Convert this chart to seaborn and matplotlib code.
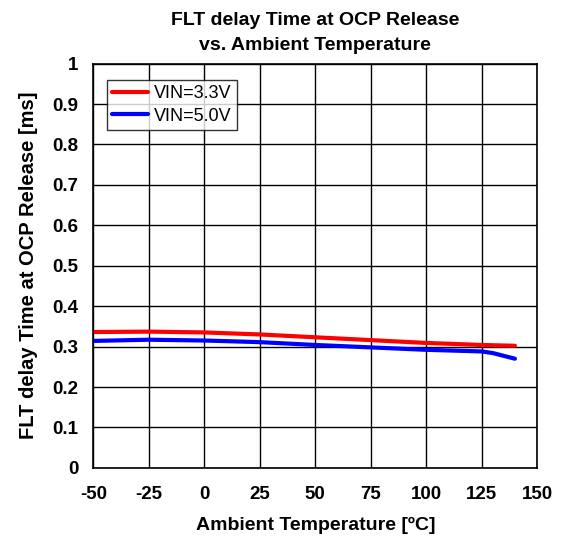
import pandas as pd
import numpy as np
import matplotlib.pyplot as plt
import seaborn as sns

### DATA ###
temp_33 = [-50, -25, 0, 25, 50, 75, 100, 125, 140]
delay_33 = [0.336, 0.337, 0.335, 0.330, 0.323, 0.316, 0.309, 0.304, 0.302]
temp_50 = [-50, -25, 0, 25, 50, 75, 100, 125, 130, 140]
delay_50 = [0.314, 0.317, 0.315, 0.311, 0.304, 0.298, 0.292, 0.288, 0.284, 0.270]
x_ticks = [-50, -25, 0, 25, 50, 75, 100, 125, 150]
y_ticks = [0, 0.1, 0.2, 0.3, 0.4, 0.5, 0.6, 0.7, 0.8, 0.9, 1]
y_tick_labels = ['0', '0.1', '0.2', '0.3', '0.4', '0.5', '0.6', '0.7', '0.8', '0.9', '1']

df = pd.concat([
    pd.DataFrame({'Temp': temp_33, 'Delay': delay_33, 'Series': 'VIN=3.3V'}),
    pd.DataFrame({'Temp': temp_50, 'Delay': delay_50, 'Series': 'VIN=5.0V'}),
])

sns.set_style('white')
plt.rcParams['font.family'] = ['Liberation Sans', 'DejaVu Sans']
plt.rcParams['text.color'] = 'black'
plt.rcParams['axes.labelcolor'] = 'black'
plt.rcParams['xtick.color'] = 'black'
plt.rcParams['ytick.color'] = 'black'

fig = plt.figure(figsize=(5.63, 5.44), dpi=100)
ax = fig.add_axes([0.166, 0.140, 0.788, 0.743])
sns.lineplot(data=df, x='Temp', y='Delay', hue='Series', ax=ax,
             palette={'VIN=3.3V': '#ff0000', 'VIN=5.0V': '#0000ff'},
             linewidth=3, estimator=None, sort=False)

ax.set_xlim(-50, 150)
ax.set_ylim(0, 1)
ax.set_xticks(x_ticks)
ax.set_xticklabels([str(t) for t in x_ticks], fontweight='bold', fontsize=13.5)
ax.set_yticks(y_ticks)
ax.set_yticklabels(y_tick_labels, fontweight='bold', fontsize=13.5)
ax.tick_params(axis='x', length=0, pad=13)
ax.tick_params(axis='y', length=0, pad=11)
ax.grid(True, color='black', linewidth=1)
for s in ax.spines.values():
    s.set_color('black')
    s.set_linewidth(1.2)

ax.set_xlabel('Ambient Temperature [ºC]', fontweight='bold', fontsize=14, labelpad=10)
ax.set_ylabel('FLT delay Time at OCP Release [ms]', fontweight='bold', fontsize=14.5, labelpad=10)
ax.set_title('FLT delay Time at OCP Release\nvs. Ambient Temperature', fontweight='bold',
             fontsize=14, pad=10, linespacing=1.6)

leg = ax.legend(loc='upper left', bbox_to_anchor=(0.03, 0.96), fontsize=13, frameon=True,
                fancybox=False, edgecolor='black', handlelength=2.0, handletextpad=0.3,
                borderpad=0.3, labelspacing=0.3, borderaxespad=0)
leg.get_frame().set_linewidth(1)

fig.savefig('out.png', dpi=100)
